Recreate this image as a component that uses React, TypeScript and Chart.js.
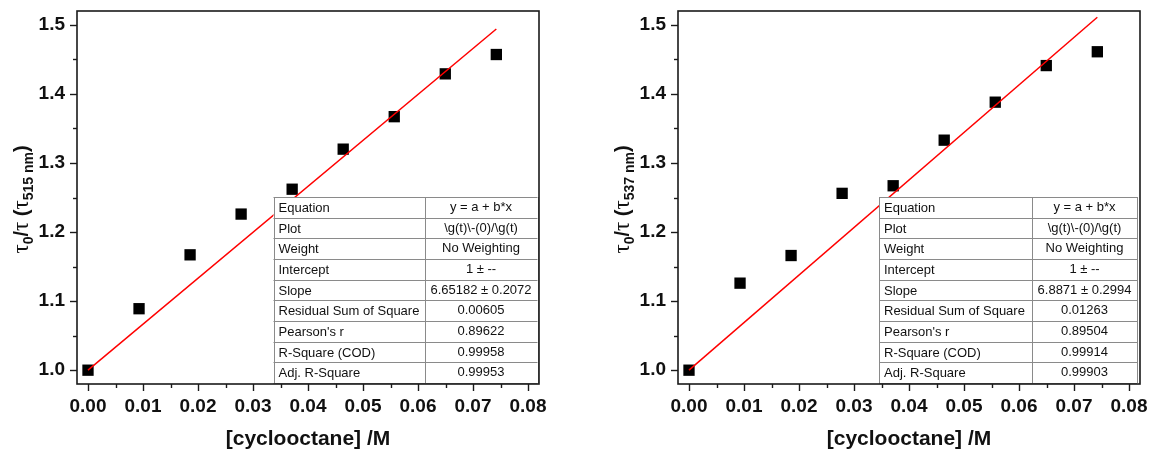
import React, { useEffect, useRef } from 'react';
import { Chart, registerables } from 'chart.js';
Chart.register(...registerables);

// ---- data ----
const concentrations = [0, 0.00928, 0.01856, 0.02784, 0.03712, 0.0464, 0.05568, 0.06496, 0.07424];
const ratio515 = [1.0, 1.089, 1.167, 1.226, 1.262, 1.32, 1.367, 1.429, 1.457];
const ratio537 = [1.0, 1.126, 1.166, 1.256, 1.267, 1.333, 1.388, 1.441, 1.461];
const fitX = [0, 0.07424];
const fit515 = [1.0, 1.494];
const fit537 = [1.0, 1.511];

const xMajorTicks = [0, 0.01, 0.02, 0.03, 0.04, 0.05, 0.06, 0.07, 0.08];
const xTickLabels = ['0.00', '0.01', '0.02', '0.03', '0.04', '0.05', '0.06', '0.07', '0.08'];
const yMajorTicks = [1.0, 1.1, 1.2, 1.3, 1.4, 1.5];
const yTickLabels = ['1.0', '1.1', '1.2', '1.3', '1.4', '1.5'];

const tableLabels = ['Equation', 'Plot', 'Weight', 'Intercept', 'Slope', 'Residual Sum of Square', "Pearson's r", 'R-Square (COD)', 'Adj. R-Square'];
const table515 = ['y = a + b*x', '\\g(t)\\-(0)/\\g(t)', 'No Weighting', '1 \u00b1 --', '6.65182 \u00b1 0.2072', '0.00605', '0.89622', '0.99958', '0.99953'];
const table537 = ['y = a + b*x', '\\g(t)\\-(0)/\\g(t)', 'No Weighting', '1 \u00b1 --', '6.8871 \u00b1 0.2994', '0.01263', '0.89504', '0.99914', '0.99903'];

const xTitle = '[cyclooctane] /M';

const FONT = '"Liberation Sans", Arial, sans-serif';

function withMinors(majors: number[]) {
  const out: { value: number }[] = [];
  majors.forEach((v, i) => {
    out.push({ value: v });
    if (i < majors.length - 1) out.push({ value: (v + majors[i + 1]) / 2 });
  });
  return out;
}

function majorIndex(majors: number[], v: number) {
  return majors.findIndex((m) => Math.abs(m - v) < 1e-9);
}

interface PanelSpec {
  values: number[];
  fit: number[];
  table: string[];
  sub: string;
  yWidth: number;
  padRight: number;
  colWidths: number[];
  tableRightInset: number;
}

function makeChart(canvas: HTMLCanvasElement, p: PanelSpec) {
  const framePlugin = {
    id: 'frameTicks',
    afterDraw(chart: any) {
      const { ctx, chartArea: a, scales } = chart;
      ctx.save();
      ctx.strokeStyle = '#1a1a1a';
      ctx.lineWidth = 1.6;
      ctx.strokeRect(a.left, a.top, a.right - a.left, a.bottom - a.top);
      ctx.lineWidth = 1.4;
      for (const t of scales.x.ticks) {
        const px = Math.round(scales.x.getPixelForValue(t.value)) + 0.5;
        const len = majorIndex(xMajorTicks, t.value) >= 0 ? 7 : 4;
        ctx.beginPath();
        ctx.moveTo(px, a.bottom);
        ctx.lineTo(px, a.bottom + len);
        ctx.stroke();
      }
      for (const t of scales.y.ticks) {
        const py = Math.round(scales.y.getPixelForValue(t.value)) + 0.5;
        const len = majorIndex(yMajorTicks, t.value) >= 0 ? 7 : 4;
        ctx.beginPath();
        ctx.moveTo(a.left, py);
        ctx.lineTo(a.left - len, py);
        ctx.stroke();
      }
      // x title
      ctx.fillStyle = '#111';
      ctx.font = `bold 21px ${FONT}`;
      ctx.textAlign = 'center';
      ctx.textBaseline = 'alphabetic';
      ctx.fillText(xTitle, (a.left + a.right) / 2, 445);
      // y title (rotated, with subscripts)
      const segs = [
        { t: '\u03c4', f: `23px "Liberation Serif", serif`, dy: 0 },
        { t: '0', f: `bold 14px ${FONT}`, dy: 5 },
        { t: '/', f: `bold 20px ${FONT}`, dy: 0 },
        { t: '\u03c4', f: `23px "Liberation Serif", serif`, dy: 0 },
        { t: ' (', f: `bold 20px ${FONT}`, dy: 0 },
        { t: '\u03c4', f: `23px "Liberation Serif", serif`, dy: 0 },
        { t: p.sub, f: `bold 14px ${FONT}`, dy: 5 },
        { t: ')', f: `bold 20px ${FONT}`, dy: 0 },
      ];
      let total = 0;
      const widths = segs.map((s) => {
        ctx.font = s.f;
        const w = ctx.measureText(s.t).width;
        total += w;
        return w;
      });
      ctx.translate(a.left - 49, (a.top + a.bottom) / 2 + 2);
      ctx.rotate(-Math.PI / 2);
      ctx.textAlign = 'left';
      let x = -total / 2;
      segs.forEach((s, i) => {
        ctx.font = s.f;
        ctx.fillText(s.t, x, s.dy);
        x += widths[i];
      });
      ctx.restore();
    },
  };

  const tablePlugin = {
    id: 'fitTable',
    afterDatasetsDraw(chart: any) {
      const { ctx, chartArea: a } = chart;
      const right = a.right - p.tableRightInset;
      const w1 = p.colWidths[0];
      const w2 = p.colWidths[1];
      const left = right - w1 - w2;
      const top = 197;
      const bottom = a.bottom - 1;
      const rh = (bottom - top) / tableLabels.length;
      ctx.save();
      ctx.fillStyle = '#ffffff';
      ctx.fillRect(left, top, w1 + w2, bottom - top);
      ctx.strokeStyle = '#8a8a8a';
      ctx.lineWidth = 1;
      for (let i = 0; i <= tableLabels.length; i++) {
        const y = Math.round(top + i * rh) + 0.5;
        ctx.beginPath();
        ctx.moveTo(left, y);
        ctx.lineTo(right, y);
        ctx.stroke();
      }
      [left, left + w1, right].forEach((xv) => {
        const xx = Math.round(xv) + 0.5;
        ctx.beginPath();
        ctx.moveTo(xx, top);
        ctx.lineTo(xx, bottom);
        ctx.stroke();
      });
      ctx.fillStyle = '#111';
      ctx.font = `13px ${FONT}`;
      ctx.textBaseline = 'middle';
      ctx.save();
      ctx.beginPath();
      ctx.rect(left, top, w1 + w2, bottom - top);
      ctx.clip();
      tableLabels.forEach((lab, i) => {
        const cy = top + i * rh + rh / 2 + 1;
        ctx.textAlign = 'left';
        ctx.fillText(lab, left + 5, cy);
        ctx.textAlign = 'center';
        ctx.fillText(p.table[i], left + w1 + w2 / 2, cy - 1);
      });
      ctx.restore();
      ctx.restore();
    },
  };

  return new Chart(canvas, {
    type: 'scatter',
    data: {
      datasets: [
        {
          label: 'fit',
          data: fitX.map((x, i) => ({ x, y: p.fit[i] })),
          showLine: true,
          borderColor: '#ff0000',
          borderWidth: 1.5,
          pointRadius: 0,
          order: 0,
        },
        {
          label: 'data',
          data: concentrations.map((x, i) => ({ x, y: p.values[i] })),
          pointStyle: 'rect',
          pointRadius: 8,
          pointBorderWidth: 0,
          backgroundColor: '#000000',
          borderColor: '#000000',
          showLine: false,
          order: 1,
        },
      ],
    },
    options: {
      responsive: false,
      animation: false,
      layout: { padding: { left: 0, right: p.padRight, top: 11, bottom: 0 } },
      plugins: { legend: { display: false }, tooltip: { enabled: false } },
      scales: {
        x: {
          type: 'linear',
          min: -0.002,
          max: 0.082,
          grid: { display: false, drawTicks: false },
          border: { display: false },
          afterBuildTicks: (scale: any) => {
            scale.ticks = withMinors(xMajorTicks);
          },
          afterFit: (scale: any) => {
            scale.height = 65;
            scale.paddingLeft = 0;
            scale.paddingRight = 0;
          },
          ticks: {
            autoSkip: false,
            maxRotation: 0,
            padding: 11,
            color: '#111',
            font: { family: FONT, size: 19, weight: 'bold' },
            callback: (v: any) => {
              const k = majorIndex(xMajorTicks, Number(v));
              return k >= 0 ? xTickLabels[k] : '';
            },
          },
        },
        y: {
          type: 'linear',
          min: 0.98,
          max: 1.52,
          grid: { display: false, drawTicks: false },
          border: { display: false },
          afterBuildTicks: (scale: any) => {
            scale.ticks = withMinors(yMajorTicks);
          },
          afterFit: (scale: any) => {
            scale.width = p.yWidth;
            scale.paddingTop = 0;
            scale.paddingBottom = 0;
          },
          ticks: {
            autoSkip: false,
            padding: 12,
            color: '#111',
            font: { family: FONT, size: 19, weight: 'bold' },
            callback: (v: any) => {
              const k = majorIndex(yMajorTicks, Number(v));
              return k >= 0 ? yTickLabels[k] : '';
            },
          },
        },
      },
    } as any,
    plugins: [tablePlugin, framePlugin],
  });
}

const leftPanel: PanelSpec = {
  values: ratio515,
  fit: fit515,
  table: table515,
  sub: '515 nm',
  yWidth: 77,
  padRight: 35,
  colWidths: [151, 113],
  tableRightInset: 1.5,
};

const rightPanel: PanelSpec = {
  values: ratio537,
  fit: fit537,
  table: table537,
  sub: '537 nm',
  yWidth: 104,
  padRight: 9,
  colWidths: [153, 105],
  tableRightInset: 3,
};

export default function App() {
  const leftRef = useRef<HTMLCanvasElement | null>(null);
  const rightRef = useRef<HTMLCanvasElement | null>(null);

  useEffect(() => {
    const c1 = makeChart(leftRef.current!, leftPanel);
    const c2 = makeChart(rightRef.current!, rightPanel);
    return () => {
      c1.destroy();
      c2.destroy();
    };
  }, []);

  return (
    <div style={{ position: 'fixed', left: 0, top: 0, width: 1149, height: 449, background: '#fff' }}>
      <canvas ref={leftRef} width={574} height={449} style={{ position: 'absolute', left: 0, top: 0, width: 574, height: 449 }} />
      <canvas ref={rightRef} width={575} height={449} style={{ position: 'absolute', left: 574, top: 0, width: 575, height: 449 }} />
    </div>
  );
}
